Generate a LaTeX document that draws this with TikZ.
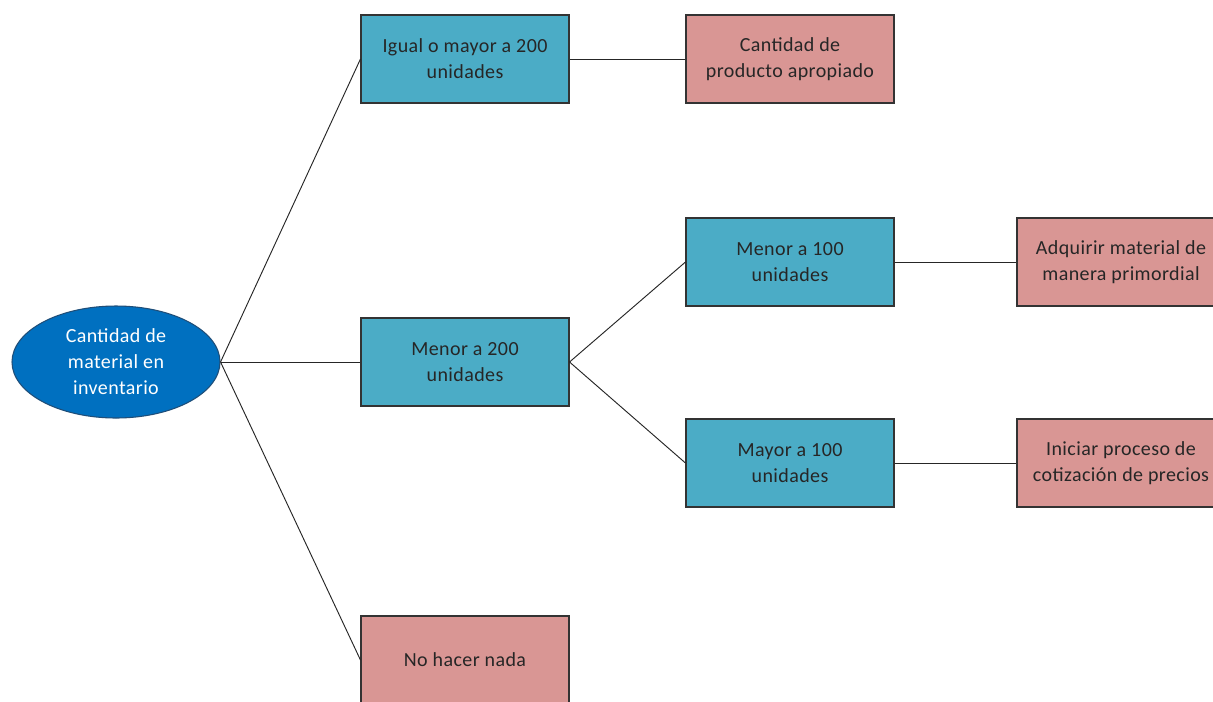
\documentclass[tikz,border=0pt]{standalone}
\usepackage{fontspec}
\setmainfont{Carlito}[LetterSpace=2]
\usepackage{tikz}
\usetikzlibrary{positioning,shapes.geometric}
\definecolor{BoxBlue}{HTML}{4BACC6}
\definecolor{BoxPink}{HTML}{D99694}
\definecolor{RootBlue}{HTML}{0070C0}
\definecolor{RootEdge}{HTML}{1F4E79}

\begin{document}
\begin{tikzpicture}[x=0.75pt,y=-0.75pt,
  every node/.style={font=\fontsize{15}{19.5}\selectfont,align=center},
  condbox/.style={draw=black!80,line width=0.8pt,fill=BoxBlue,text=black!85,minimum width=156pt,minimum height=66pt,inner sep=0pt},
  actbox/.style={draw=black!80,line width=0.8pt,fill=BoxPink,text=black!85,minimum width=156pt,minimum height=66pt,inner sep=0pt},
  link/.style={draw=black!85,line width=0.7pt}]
\clip (0,0) rectangle (1213,701);
\fill[white] (0,0) rectangle (1213,701);
% root
\node[ellipse,draw=RootEdge,line width=0.8pt,fill=RootBlue,text=white,minimum width=156pt,minimum height=84pt,inner sep=0pt] (root) at (116,362) {Cantidad de\\material en\\inventario};
% first level
\node[condbox] (igual) at (465,59) {Igual o mayor a 200\\unidades};
\node[condbox] (menor) at (465,362) {Menor a 200\\unidades};
\node[actbox] (nada) at (465,660) {No hacer nada};
% second level
\node[actbox] (apropiado) at (790,59) {Cantidad de\\producto apropiado};
\node[condbox] (menorcien) at (790,262) {Menor a 100\\unidades};
\node[condbox] (mayorcien) at (790,463) {Mayor a 100\\unidades};
% actions
\node[actbox] (adquirir) at (1121,262) {Adquirir material de\\manera primordial};
\node[actbox] (iniciar) at (1121,463) {Iniciar proceso de\\cotización de precios};
\draw[link] (root.east) -- (igual.west);
\draw[link] (root.east) -- (menor.west);
\draw[link] (root.east) -- (nada.west);
\draw[link] (igual) -- (apropiado);
\draw[link] (menor.east) -- (menorcien.west);
\draw[link] (menor.east) -- (mayorcien.west);
\draw[link] (menorcien) -- (adquirir);
\draw[link] (mayorcien) -- (iniciar);
\end{tikzpicture}
\end{document}
